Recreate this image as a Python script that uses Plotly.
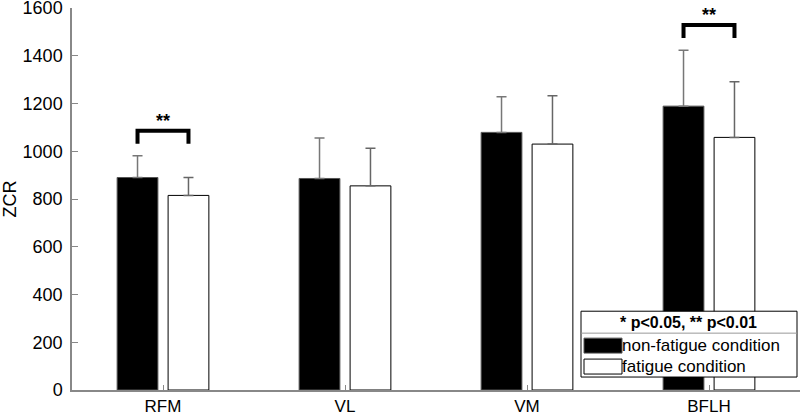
import plotly.graph_objects as go

muscles = ['RFM', 'VL', 'VM', 'BFLH']
non_fatigue = [890, 886, 1079, 1189]
non_fatigue_sd = [91, 169, 149, 234]
fatigue = [815, 855, 1030, 1058]
fatigue_sd = [75, 158, 202, 233]

# significance brackets: (category index, bracket top, label)
brackets = [(0, 1086, '**'), (3, 1529, '**')]

FONT = 'Liberation Sans, Arial, sans-serif'

fig = go.Figure()
fig.add_trace(go.Bar(
    x=muscles, y=non_fatigue, name='non-fatigue condition',
    marker=dict(color='black', line=dict(color='#555', width=1)),
    error_y=dict(type='data', array=non_fatigue_sd, arrayminus=[0] * 4,
                 symmetric=False, color='#777', thickness=1.5, width=5),
))
fig.add_trace(go.Bar(
    x=muscles, y=fatigue, name='fatigue condition',
    marker=dict(color='white', line=dict(color='black', width=1)),
    error_y=dict(type='data', array=fatigue_sd, arrayminus=[0] * 4,
                 symmetric=False, color='#666', thickness=1.5, width=5),
))

off = 0.14
for i, top, label in brackets:
    leg = top - 55
    fig.add_shape(type='path', xref='x', yref='y',
                  path=f'M {i - off},{leg} L {i - off},{top} L {i + off},{top} L {i + off},{leg}',
                  line=dict(color='black', width=4))
    fig.add_annotation(x=i, y=top, xref='x', yref='y', text=f'<b>{label}</b>',
                       showarrow=False, yanchor='bottom', yshift=-2,
                       font=dict(size=18, color='black', family=FONT))


# legend drawn by hand (pixel positions -> paper coords)
def px(x):
    return (x - 72) / 728


def py(y):
    return (390 - y) / 383


fig.add_shape(type='rect', xref='paper', yref='paper',
              x0=px(581), x1=px(797), y0=py(377), y1=py(311),
              line=dict(color='black', width=1), fillcolor='white', layer='above')
fig.add_shape(type='line', xref='paper', yref='paper',
              x0=px(581), x1=px(797), y0=py(333), y1=py(333),
              line=dict(color='#999', width=1), layer='above')
fig.add_annotation(xref='paper', yref='paper', x=px(688), y=py(322),
                   xanchor='center', yanchor='middle',
                   text='<b>* p<0.05, ** p<0.01</b>', showarrow=False,
                   font=dict(size=16, color='black', family=FONT))
fig.add_shape(type='rect', xref='paper', yref='paper',
              x0=px(584), x1=px(622), y0=py(353), y1=py(338),
              line=dict(color='#555', width=1), fillcolor='black', layer='above')
fig.add_shape(type='rect', xref='paper', yref='paper',
              x0=px(584), x1=px(622), y0=py(374), y1=py(359),
              line=dict(color='black', width=1), fillcolor='white', layer='above')
for yy, name in [(345.5, 'non-fatigue condition'), (366.5, 'fatigue condition')]:
    fig.add_annotation(xref='paper', yref='paper', x=px(620), y=py(yy),
                       text=name, showarrow=False, xanchor='left', yanchor='middle',
                       font=dict(size=17, color='black', family=FONT))

fig.update_layout(
    width=800, height=415,
    margin=dict(l=72, r=0, t=8, b=25),
    paper_bgcolor='white', plot_bgcolor='white',
    barmode='group', bargap=0.44, bargroupgap=0.2,
    showlegend=False,
    font=dict(family=FONT, size=17, color='black'),
)
fig.update_xaxes(showline=True, linecolor='#888', linewidth=1.5,
                 ticks='inside', ticklen=5, tickcolor='#888', automargin=False,
                 ticklabeloverflow='allow',
                 range=[-0.5, 3.5], tickfont=dict(size=17))
fig.update_yaxes(showline=True, linecolor='#888', linewidth=1.5,
                 ticks='inside', ticklen=6, tickcolor='#888', automargin=False,
                 ticklabeloverflow='allow', ticklabelstandoff=4,
                 range=[0, 1600], dtick=200, showgrid=False, zeroline=False,
                 title=dict(text='ZCR', standoff=6, font=dict(size=18)),
                 tickfont=dict(size=18))

# page has a default 8px body margin; drop it so the figure sits at the corner
fig.write_html('out.html', config={'displayModeBar': False},
               post_script="document.body.style.margin='0';")
